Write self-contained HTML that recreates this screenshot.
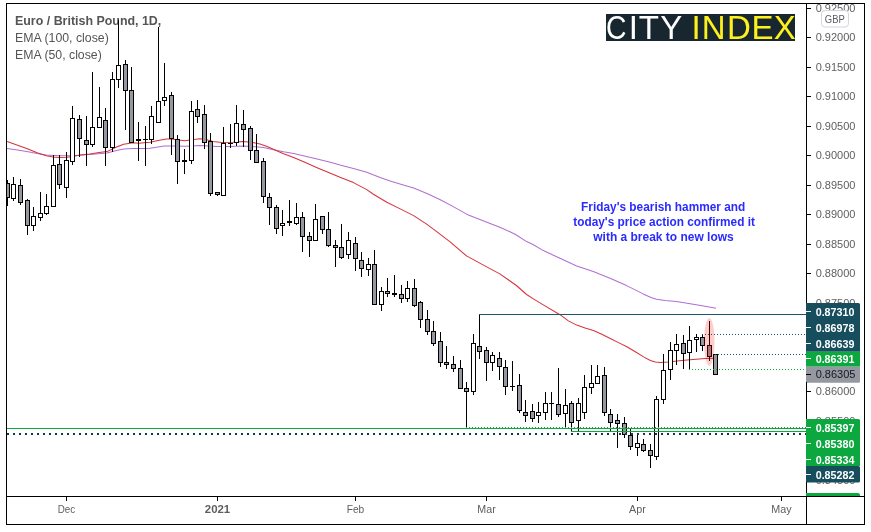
<!DOCTYPE html>
<html lang="en"><head><meta charset="utf-8"><title>Euro / British Pound, 1D</title>
<style>
html,body{margin:0;padding:0;background:#fff;}
body{width:871px;height:532px;overflow:hidden;position:relative;}
svg{position:absolute;left:0;top:0;display:block;}
text{font-family:"Liberation Sans",sans-serif;}
.ax{font-size:11px;fill:#5e5e5e;}
.lb{font-size:11px;font-weight:bold;fill:#fff;}
.ti{font-size:12.5px;fill:#555555;}
.an{font-size:11.9px;font-weight:bold;fill:#2b2bff;text-anchor:middle;}
.tm{font-size:11px;fill:#5e5e5e;text-anchor:middle;}
</style></head><body>
<svg width="871" height="532" viewBox="0 0 871 532">
<rect x="0" y="0" width="871" height="532" fill="#fff"/>
<defs><clipPath id="pane"><rect x="7" y="4" width="799" height="492"/></clipPath><clipPath id="axc"><rect x="807" y="4" width="57" height="492"/></clipPath></defs>
<text class="ti" x="15" y="24.8" font-weight="bold" textLength="146.3" lengthAdjust="spacingAndGlyphs">Euro / British Pound, 1D,</text>
<text class="ti" x="15" y="41.7" textLength="93.8" lengthAdjust="spacingAndGlyphs">EMA (100, close)</text>
<text class="ti" x="15" y="58.7" textLength="86.8" lengthAdjust="spacingAndGlyphs">EMA (50, close)</text>
<g clip-path="url(#pane)">
<polyline fill="none" stroke="#b06fd0" stroke-width="1.05" stroke-linejoin="round" points="7.0,148.4 17.6,150.1 28.0,151.8 37.1,153.5 46.3,155.0 59.0,155.8 69.3,155.8 79.6,155.3 92.3,154.3 107.0,153.1 116.5,150.4 123.7,149.0 133.0,148.4 143.0,148.5 150.0,148.3 158.0,147.0 164.3,146.0 173.5,146.0 185.0,146.2 191.8,145.9 200.0,145.4 216.7,146.4 230.1,146.4 243.5,145.9 255.2,146.8 263.5,147.6 273.6,149.8 283.6,151.8 293.6,153.4 305.4,156.3 317.1,159.0 330.4,162.3 340.0,165.1 353.4,168.4 366.8,172.2 380.1,177.6 390.2,180.9 400.0,183.9 413.6,188.1 427.0,193.5 440.3,199.8 453.7,206.9 467.1,214.4 485.0,221.6 499.8,227.3 510.0,231.7 516.4,235.0 526.6,241.6 533.0,244.5 543.3,250.6 560.0,258.3 576.6,266.0 593.3,271.6 610.0,278.3 626.6,285.6 643.2,293.9 651.0,297.5 656.5,299.3 665.0,300.4 676.5,301.6 693.2,304.2 705.0,306.3 716.0,308.2"/>
<polyline fill="none" stroke="#d6333a" stroke-width="1.05" stroke-linejoin="round" points="7.0,141.4 17.6,145.2 28.0,148.9 37.1,152.7 46.3,155.8 53.2,157.0 59.0,157.6 67.0,157.3 73.9,156.2 79.6,155.0 90.0,153.9 99.1,152.4 107.0,151.6 116.5,147.0 123.7,144.3 133.0,142.8 138.8,143.3 150.0,142.3 158.0,140.5 166.5,139.0 172.0,139.0 178.1,139.9 185.0,140.8 191.8,139.8 200.0,138.7 206.0,139.6 213.0,141.6 222.0,142.6 233.0,142.3 243.0,141.6 253.0,142.5 260.0,144.0 266.5,146.3 275.0,150.0 283.0,153.6 293.6,157.6 305.4,162.6 317.1,167.7 330.4,173.2 340.0,177.3 353.4,182.6 366.8,189.6 373.4,194.3 386.8,202.2 400.2,208.9 413.6,215.6 427.0,224.4 437.0,231.9 449.8,241.6 466.5,255.9 483.0,264.9 499.8,273.9 510.0,281.0 516.4,285.5 526.6,294.5 533.0,298.6 543.3,304.9 560.0,314.7 568.4,320.9 576.7,325.1 585.1,328.1 593.4,330.4 601.8,334.3 610.2,338.5 618.5,342.6 626.9,346.8 635.3,351.8 643.6,356.9 650.3,360.5 655.3,361.9 660.3,362.4 668.7,361.9 677.1,361.0 687.1,359.9 705.0,358.5 714.0,358.2"/>
<g shape-rendering="crispEdges">
<rect x="7" y="180" width="1" height="26" fill="#000"/>
<rect x="5" y="183" width="5" height="15" fill="#000"/>
<rect x="6" y="184" width="3" height="13" fill="#9598a1"/>
<rect x="13" y="177" width="1" height="24" fill="#000"/>
<rect x="11" y="184" width="5" height="15" fill="#000"/>
<rect x="12" y="185" width="3" height="13" fill="#fff"/>
<rect x="20" y="179" width="1" height="26" fill="#000"/>
<rect x="18" y="185" width="5" height="18" fill="#000"/>
<rect x="19" y="186" width="3" height="16" fill="#9598a1"/>
<rect x="27" y="199" width="1" height="36" fill="#000"/>
<rect x="25" y="200" width="5" height="26" fill="#000"/>
<rect x="26" y="201" width="3" height="24" fill="#9598a1"/>
<rect x="33" y="207" width="1" height="24" fill="#000"/>
<rect x="31" y="216" width="5" height="10" fill="#000"/>
<rect x="32" y="217" width="3" height="8" fill="#fff"/>
<rect x="40" y="192" width="1" height="29" fill="#000"/>
<rect x="38" y="213" width="5" height="5" fill="#000"/>
<rect x="39" y="214" width="3" height="3" fill="#fff"/>
<rect x="46" y="194" width="1" height="21" fill="#000"/>
<rect x="44" y="206" width="5" height="8" fill="#000"/>
<rect x="45" y="207" width="3" height="6" fill="#fff"/>
<rect x="53" y="155" width="1" height="51" fill="#000"/>
<rect x="51" y="165" width="5" height="42" fill="#000"/>
<rect x="52" y="166" width="3" height="40" fill="#fff"/>
<rect x="59" y="155" width="1" height="34" fill="#000"/>
<rect x="57" y="164" width="5" height="21" fill="#000"/>
<rect x="58" y="165" width="3" height="19" fill="#9598a1"/>
<rect x="66" y="152" width="1" height="46" fill="#000"/>
<rect x="64" y="160" width="5" height="28" fill="#000"/>
<rect x="65" y="161" width="3" height="26" fill="#fff"/>
<rect x="72" y="106" width="1" height="59" fill="#000"/>
<rect x="70" y="118" width="5" height="44" fill="#000"/>
<rect x="71" y="119" width="3" height="42" fill="#fff"/>
<rect x="79" y="115" width="1" height="42" fill="#000"/>
<rect x="77" y="119" width="5" height="20" fill="#000"/>
<rect x="78" y="120" width="3" height="18" fill="#9598a1"/>
<rect x="86" y="116" width="1" height="50" fill="#000"/>
<rect x="84" y="140" width="5" height="5" fill="#000"/>
<rect x="85" y="141" width="3" height="3" fill="#9598a1"/>
<rect x="92" y="72" width="1" height="75" fill="#000"/>
<rect x="90" y="127" width="5" height="18" fill="#000"/>
<rect x="91" y="128" width="3" height="16" fill="#fff"/>
<rect x="99" y="87" width="1" height="40" fill="#000"/>
<rect x="97" y="117" width="5" height="11" fill="#000"/>
<rect x="98" y="118" width="3" height="9" fill="#fff"/>
<rect x="105" y="108" width="1" height="58" fill="#000"/>
<rect x="103" y="120" width="5" height="28" fill="#000"/>
<rect x="104" y="121" width="3" height="26" fill="#9598a1"/>
<rect x="112" y="72" width="1" height="80" fill="#000"/>
<rect x="110" y="79" width="5" height="69" fill="#000"/>
<rect x="111" y="80" width="3" height="67" fill="#fff"/>
<rect x="118" y="20" width="1" height="68" fill="#000"/>
<rect x="116" y="65" width="5" height="15" fill="#000"/>
<rect x="117" y="66" width="3" height="13" fill="#fff"/>
<rect x="125" y="60" width="1" height="70" fill="#000"/>
<rect x="123" y="64" width="5" height="27" fill="#000"/>
<rect x="124" y="65" width="3" height="25" fill="#9598a1"/>
<rect x="131" y="67" width="1" height="75" fill="#000"/>
<rect x="129" y="90" width="5" height="53" fill="#000"/>
<rect x="130" y="91" width="3" height="51" fill="#9598a1"/>
<rect x="138" y="122" width="1" height="39" fill="#000"/>
<rect x="136" y="139" width="5" height="2" fill="#000"/>
<rect x="145" y="126" width="1" height="40" fill="#000"/>
<rect x="143" y="139" width="5" height="1" fill="#000"/>
<rect x="151" y="106" width="1" height="38" fill="#000"/>
<rect x="149" y="116" width="5" height="24" fill="#000"/>
<rect x="150" y="117" width="3" height="22" fill="#fff"/>
<rect x="158" y="27" width="1" height="95" fill="#000"/>
<rect x="156" y="101" width="5" height="22" fill="#000"/>
<rect x="157" y="102" width="3" height="20" fill="#fff"/>
<rect x="164" y="63" width="1" height="43" fill="#000"/>
<rect x="162" y="97" width="5" height="4" fill="#000"/>
<rect x="163" y="98" width="3" height="2" fill="#fff"/>
<rect x="171" y="92" width="1" height="63" fill="#000"/>
<rect x="169" y="95" width="5" height="44" fill="#000"/>
<rect x="170" y="96" width="3" height="42" fill="#9598a1"/>
<rect x="177" y="135" width="1" height="49" fill="#000"/>
<rect x="175" y="139" width="5" height="23" fill="#000"/>
<rect x="176" y="140" width="3" height="21" fill="#9598a1"/>
<rect x="184" y="149" width="1" height="25" fill="#000"/>
<rect x="182" y="160" width="5" height="2" fill="#000"/>
<rect x="191" y="101" width="1" height="63" fill="#000"/>
<rect x="189" y="111" width="5" height="50" fill="#000"/>
<rect x="190" y="112" width="3" height="48" fill="#fff"/>
<rect x="197" y="100" width="1" height="23" fill="#000"/>
<rect x="195" y="109" width="5" height="8" fill="#000"/>
<rect x="196" y="110" width="3" height="6" fill="#9598a1"/>
<rect x="204" y="105" width="1" height="44" fill="#000"/>
<rect x="202" y="114" width="5" height="29" fill="#000"/>
<rect x="203" y="115" width="3" height="27" fill="#9598a1"/>
<rect x="210" y="133" width="1" height="63" fill="#000"/>
<rect x="208" y="141" width="5" height="53" fill="#000"/>
<rect x="209" y="142" width="3" height="51" fill="#9598a1"/>
<rect x="217" y="192" width="1" height="4" fill="#000"/>
<rect x="215" y="192" width="5" height="3" fill="#000"/>
<rect x="216" y="193" width="3" height="1" fill="#9598a1"/>
<rect x="223" y="127" width="1" height="69" fill="#000"/>
<rect x="221" y="143" width="5" height="53" fill="#000"/>
<rect x="222" y="144" width="3" height="51" fill="#fff"/>
<rect x="230" y="124" width="1" height="24" fill="#000"/>
<rect x="228" y="143" width="5" height="1" fill="#000"/>
<rect x="236" y="105" width="1" height="41" fill="#000"/>
<rect x="234" y="123" width="5" height="20" fill="#000"/>
<rect x="235" y="124" width="3" height="18" fill="#fff"/>
<rect x="243" y="110" width="1" height="37" fill="#000"/>
<rect x="241" y="124" width="5" height="6" fill="#000"/>
<rect x="242" y="125" width="3" height="4" fill="#9598a1"/>
<rect x="250" y="126" width="1" height="34" fill="#000"/>
<rect x="248" y="128" width="5" height="23" fill="#000"/>
<rect x="249" y="129" width="3" height="21" fill="#9598a1"/>
<rect x="256" y="134" width="1" height="28" fill="#000"/>
<rect x="254" y="150" width="5" height="13" fill="#000"/>
<rect x="255" y="151" width="3" height="11" fill="#9598a1"/>
<rect x="263" y="158" width="1" height="45" fill="#000"/>
<rect x="261" y="161" width="5" height="36" fill="#000"/>
<rect x="262" y="162" width="3" height="34" fill="#9598a1"/>
<rect x="269" y="193" width="1" height="32" fill="#000"/>
<rect x="267" y="197" width="5" height="11" fill="#000"/>
<rect x="268" y="198" width="3" height="9" fill="#9598a1"/>
<rect x="276" y="205" width="1" height="29" fill="#000"/>
<rect x="274" y="207" width="5" height="22" fill="#000"/>
<rect x="275" y="208" width="3" height="20" fill="#9598a1"/>
<rect x="282" y="210" width="1" height="26" fill="#000"/>
<rect x="280" y="223" width="5" height="3" fill="#000"/>
<rect x="281" y="224" width="3" height="1" fill="#fff"/>
<rect x="289" y="200" width="1" height="26" fill="#000"/>
<rect x="287" y="221" width="5" height="2" fill="#000"/>
<rect x="296" y="203" width="1" height="22" fill="#000"/>
<rect x="294" y="217" width="5" height="7" fill="#000"/>
<rect x="295" y="218" width="3" height="5" fill="#fff"/>
<rect x="302" y="212" width="1" height="40" fill="#000"/>
<rect x="300" y="217" width="5" height="20" fill="#000"/>
<rect x="301" y="218" width="3" height="18" fill="#9598a1"/>
<rect x="309" y="232" width="1" height="25" fill="#000"/>
<rect x="307" y="236" width="5" height="5" fill="#000"/>
<rect x="308" y="237" width="3" height="3" fill="#9598a1"/>
<rect x="315" y="204" width="1" height="37" fill="#000"/>
<rect x="313" y="219" width="5" height="22" fill="#000"/>
<rect x="314" y="220" width="3" height="20" fill="#fff"/>
<rect x="322" y="216" width="1" height="18" fill="#000"/>
<rect x="320" y="216" width="5" height="14" fill="#000"/>
<rect x="321" y="217" width="3" height="12" fill="#9598a1"/>
<rect x="328" y="212" width="1" height="35" fill="#000"/>
<rect x="326" y="229" width="5" height="17" fill="#000"/>
<rect x="327" y="230" width="3" height="15" fill="#9598a1"/>
<rect x="335" y="240" width="1" height="27" fill="#000"/>
<rect x="333" y="245" width="5" height="3" fill="#000"/>
<rect x="334" y="246" width="3" height="1" fill="#9598a1"/>
<rect x="341" y="224" width="1" height="35" fill="#000"/>
<rect x="339" y="247" width="5" height="11" fill="#000"/>
<rect x="340" y="248" width="3" height="9" fill="#9598a1"/>
<rect x="348" y="232" width="1" height="27" fill="#000"/>
<rect x="346" y="240" width="5" height="15" fill="#000"/>
<rect x="347" y="241" width="3" height="13" fill="#fff"/>
<rect x="355" y="237" width="1" height="34" fill="#000"/>
<rect x="353" y="243" width="5" height="16" fill="#000"/>
<rect x="354" y="244" width="3" height="14" fill="#9598a1"/>
<rect x="361" y="252" width="1" height="25" fill="#000"/>
<rect x="359" y="260" width="5" height="9" fill="#000"/>
<rect x="360" y="261" width="3" height="7" fill="#9598a1"/>
<rect x="368" y="258" width="1" height="18" fill="#000"/>
<rect x="366" y="264" width="5" height="6" fill="#000"/>
<rect x="367" y="265" width="3" height="4" fill="#fff"/>
<rect x="374" y="250" width="1" height="54" fill="#000"/>
<rect x="372" y="264" width="5" height="41" fill="#000"/>
<rect x="373" y="265" width="3" height="39" fill="#9598a1"/>
<rect x="381" y="287" width="1" height="24" fill="#000"/>
<rect x="379" y="291" width="5" height="14" fill="#000"/>
<rect x="380" y="292" width="3" height="12" fill="#fff"/>
<rect x="387" y="278" width="1" height="19" fill="#000"/>
<rect x="385" y="291" width="5" height="3" fill="#000"/>
<rect x="386" y="292" width="3" height="1" fill="#9598a1"/>
<rect x="394" y="275" width="1" height="22" fill="#000"/>
<rect x="392" y="293" width="5" height="2" fill="#000"/>
<rect x="401" y="285" width="1" height="18" fill="#000"/>
<rect x="399" y="294" width="5" height="5" fill="#000"/>
<rect x="400" y="295" width="3" height="3" fill="#9598a1"/>
<rect x="407" y="281" width="1" height="21" fill="#000"/>
<rect x="405" y="288" width="5" height="11" fill="#000"/>
<rect x="406" y="289" width="3" height="9" fill="#fff"/>
<rect x="414" y="279" width="1" height="28" fill="#000"/>
<rect x="412" y="288" width="5" height="18" fill="#000"/>
<rect x="413" y="289" width="3" height="16" fill="#9598a1"/>
<rect x="420" y="301" width="1" height="27" fill="#000"/>
<rect x="418" y="302" width="5" height="18" fill="#000"/>
<rect x="419" y="303" width="3" height="16" fill="#9598a1"/>
<rect x="427" y="310" width="1" height="25" fill="#000"/>
<rect x="425" y="319" width="5" height="13" fill="#000"/>
<rect x="426" y="320" width="3" height="11" fill="#9598a1"/>
<rect x="433" y="321" width="1" height="25" fill="#000"/>
<rect x="431" y="331" width="5" height="13" fill="#000"/>
<rect x="432" y="332" width="3" height="11" fill="#9598a1"/>
<rect x="440" y="332" width="1" height="35" fill="#000"/>
<rect x="438" y="341" width="5" height="22" fill="#000"/>
<rect x="439" y="342" width="3" height="20" fill="#9598a1"/>
<rect x="446" y="346" width="1" height="23" fill="#000"/>
<rect x="444" y="362" width="5" height="3" fill="#000"/>
<rect x="445" y="363" width="3" height="1" fill="#9598a1"/>
<rect x="453" y="356" width="1" height="16" fill="#000"/>
<rect x="451" y="364" width="5" height="5" fill="#000"/>
<rect x="452" y="365" width="3" height="3" fill="#9598a1"/>
<rect x="460" y="360" width="1" height="28" fill="#000"/>
<rect x="458" y="368" width="5" height="21" fill="#000"/>
<rect x="459" y="369" width="3" height="19" fill="#9598a1"/>
<rect x="466" y="382" width="1" height="46" fill="#000"/>
<rect x="464" y="388" width="5" height="4" fill="#000"/>
<rect x="465" y="389" width="3" height="2" fill="#9598a1"/>
<rect x="473" y="334" width="1" height="61" fill="#000"/>
<rect x="471" y="343" width="5" height="49" fill="#000"/>
<rect x="472" y="344" width="3" height="47" fill="#fff"/>
<rect x="479" y="315" width="1" height="44" fill="#000"/>
<rect x="477" y="346" width="5" height="6" fill="#000"/>
<rect x="478" y="347" width="3" height="4" fill="#9598a1"/>
<rect x="486" y="347" width="1" height="34" fill="#000"/>
<rect x="484" y="350" width="5" height="13" fill="#000"/>
<rect x="485" y="351" width="3" height="11" fill="#9598a1"/>
<rect x="492" y="352" width="1" height="19" fill="#000"/>
<rect x="490" y="355" width="5" height="8" fill="#000"/>
<rect x="491" y="356" width="3" height="6" fill="#fff"/>
<rect x="499" y="352" width="1" height="28" fill="#000"/>
<rect x="497" y="358" width="5" height="9" fill="#000"/>
<rect x="498" y="359" width="3" height="7" fill="#9598a1"/>
<rect x="505" y="360" width="1" height="35" fill="#000"/>
<rect x="503" y="367" width="5" height="20" fill="#000"/>
<rect x="504" y="368" width="3" height="18" fill="#9598a1"/>
<rect x="512" y="361" width="1" height="30" fill="#000"/>
<rect x="510" y="386" width="5" height="1" fill="#000"/>
<rect x="519" y="374" width="1" height="39" fill="#000"/>
<rect x="517" y="385" width="5" height="26" fill="#000"/>
<rect x="518" y="386" width="3" height="24" fill="#9598a1"/>
<rect x="525" y="400" width="1" height="22" fill="#000"/>
<rect x="523" y="412" width="5" height="4" fill="#000"/>
<rect x="524" y="413" width="3" height="2" fill="#9598a1"/>
<rect x="532" y="404" width="1" height="18" fill="#000"/>
<rect x="530" y="411" width="5" height="8" fill="#000"/>
<rect x="531" y="412" width="3" height="6" fill="#9598a1"/>
<rect x="538" y="402" width="1" height="21" fill="#000"/>
<rect x="536" y="412" width="5" height="4" fill="#000"/>
<rect x="537" y="413" width="3" height="2" fill="#fff"/>
<rect x="545" y="392" width="1" height="28" fill="#000"/>
<rect x="543" y="403" width="5" height="10" fill="#000"/>
<rect x="544" y="404" width="3" height="8" fill="#fff"/>
<rect x="551" y="392" width="1" height="28" fill="#000"/>
<rect x="549" y="403" width="5" height="1" fill="#000"/>
<rect x="558" y="368" width="1" height="49" fill="#000"/>
<rect x="556" y="404" width="5" height="11" fill="#000"/>
<rect x="557" y="405" width="3" height="9" fill="#9598a1"/>
<rect x="565" y="389" width="1" height="38" fill="#000"/>
<rect x="563" y="405" width="5" height="9" fill="#000"/>
<rect x="564" y="406" width="3" height="7" fill="#fff"/>
<rect x="571" y="401" width="1" height="30" fill="#000"/>
<rect x="569" y="403" width="5" height="20" fill="#000"/>
<rect x="570" y="404" width="3" height="18" fill="#9598a1"/>
<rect x="578" y="398" width="1" height="33" fill="#000"/>
<rect x="576" y="403" width="5" height="18" fill="#000"/>
<rect x="577" y="404" width="3" height="16" fill="#fff"/>
<rect x="584" y="375" width="1" height="44" fill="#000"/>
<rect x="582" y="387" width="5" height="26" fill="#000"/>
<rect x="583" y="388" width="3" height="24" fill="#fff"/>
<rect x="591" y="365" width="1" height="29" fill="#000"/>
<rect x="589" y="383" width="5" height="5" fill="#000"/>
<rect x="590" y="384" width="3" height="3" fill="#fff"/>
<rect x="597" y="365" width="1" height="18" fill="#000"/>
<rect x="595" y="376" width="5" height="8" fill="#000"/>
<rect x="596" y="377" width="3" height="6" fill="#fff"/>
<rect x="604" y="367" width="1" height="49" fill="#000"/>
<rect x="602" y="375" width="5" height="38" fill="#000"/>
<rect x="603" y="376" width="3" height="36" fill="#9598a1"/>
<rect x="610" y="409" width="1" height="22" fill="#000"/>
<rect x="608" y="414" width="5" height="9" fill="#000"/>
<rect x="609" y="415" width="3" height="7" fill="#9598a1"/>
<rect x="617" y="414" width="1" height="34" fill="#000"/>
<rect x="615" y="420" width="5" height="4" fill="#000"/>
<rect x="616" y="421" width="3" height="2" fill="#9598a1"/>
<rect x="624" y="417" width="1" height="21" fill="#000"/>
<rect x="622" y="423" width="5" height="12" fill="#000"/>
<rect x="623" y="424" width="3" height="10" fill="#9598a1"/>
<rect x="630" y="429" width="1" height="21" fill="#000"/>
<rect x="628" y="435" width="5" height="12" fill="#000"/>
<rect x="629" y="436" width="3" height="10" fill="#9598a1"/>
<rect x="637" y="433" width="1" height="23" fill="#000"/>
<rect x="635" y="443" width="5" height="5" fill="#000"/>
<rect x="636" y="444" width="3" height="3" fill="#fff"/>
<rect x="643" y="439" width="1" height="13" fill="#000"/>
<rect x="641" y="444" width="5" height="7" fill="#000"/>
<rect x="642" y="445" width="3" height="5" fill="#9598a1"/>
<rect x="650" y="444" width="1" height="24" fill="#000"/>
<rect x="648" y="450" width="5" height="6" fill="#000"/>
<rect x="649" y="451" width="3" height="4" fill="#9598a1"/>
<rect x="656" y="396" width="1" height="64" fill="#000"/>
<rect x="654" y="399" width="5" height="58" fill="#000"/>
<rect x="655" y="400" width="3" height="56" fill="#fff"/>
<rect x="663" y="354" width="1" height="50" fill="#000"/>
<rect x="661" y="370" width="5" height="30" fill="#000"/>
<rect x="662" y="371" width="3" height="28" fill="#fff"/>
<rect x="670" y="342" width="1" height="38" fill="#000"/>
<rect x="668" y="350" width="5" height="20" fill="#000"/>
<rect x="669" y="351" width="3" height="18" fill="#fff"/>
<rect x="676" y="334" width="1" height="31" fill="#000"/>
<rect x="674" y="344" width="5" height="7" fill="#000"/>
<rect x="675" y="345" width="3" height="5" fill="#fff"/>
<rect x="683" y="335" width="1" height="34" fill="#000"/>
<rect x="681" y="343" width="5" height="11" fill="#000"/>
<rect x="682" y="344" width="3" height="9" fill="#9598a1"/>
<rect x="689" y="326" width="1" height="43" fill="#000"/>
<rect x="687" y="340" width="5" height="13" fill="#000"/>
<rect x="688" y="341" width="3" height="11" fill="#fff"/>
<rect x="696" y="334" width="1" height="18" fill="#000"/>
<rect x="694" y="337" width="5" height="3" fill="#000"/>
<rect x="695" y="338" width="3" height="1" fill="#fff"/>
<rect x="702" y="334" width="1" height="17" fill="#000"/>
<rect x="700" y="337" width="5" height="9" fill="#000"/>
<rect x="701" y="338" width="3" height="7" fill="#9598a1"/>
<rect x="709" y="321" width="1" height="40" fill="#000"/>
<rect x="707" y="345" width="5" height="12" fill="#000"/>
<rect x="708" y="346" width="3" height="10" fill="#9598a1"/>
<rect x="715" y="354" width="1" height="21" fill="#000"/>
<rect x="713" y="354" width="5" height="21" fill="#000"/>
<rect x="714" y="355" width="3" height="19" fill="#9598a1"/>
</g>
<g shape-rendering="crispEdges">
<rect x="479" y="314" width="328" height="1" fill="#1b5768"/>
<rect x="7" y="428" width="800" height="1" fill="#0ca73f"/>
<rect x="571" y="431" width="236" height="1" fill="#0ca73f"/>
</g>
<line x1="702" y1="334.5" x2="807" y2="334.5" stroke="#1b5768" stroke-width="1" stroke-dasharray="1 2" shape-rendering="crispEdges"/>
<line x1="715" y1="354.5" x2="807" y2="354.5" stroke="#1b5768" stroke-width="1" stroke-dasharray="1 2" shape-rendering="crispEdges"/>
<line x1="689" y1="369.5" x2="807" y2="369.5" stroke="#0ca73f" stroke-width="1" stroke-dasharray="1 2" shape-rendering="crispEdges"/>
<line x1="466" y1="427.5" x2="807" y2="427.5" stroke="#0ca73f" stroke-width="1" stroke-dasharray="1 2" shape-rendering="crispEdges"/>
<line x1="7" y1="434" x2="807" y2="434" stroke="#0e3c4c" stroke-width="2" stroke-dasharray="2 4" shape-rendering="crispEdges"/>
<ellipse cx="709.3" cy="341.9" rx="5.2" ry="24" fill="rgba(255,0,0,0.2)"/>
</g>
<rect x="606" y="14" width="189" height="27" fill="#182630"/>
<text y="38.7" font-size="33" fill="#ffffff"><tspan x="606.1" textLength="20.5" lengthAdjust="spacingAndGlyphs">C</tspan><tspan x="628.7">I</tspan><tspan x="638.7">T</tspan><tspan x="660.2">Y</tspan></text>
<text x="691.4 701.8 727.0 751.5 773.8" y="38.7" font-size="33" fill="#fdf01c">INDEX</text>
<text class="an" x="663.2" y="210.8" textLength="164.2" lengthAdjust="spacingAndGlyphs">Friday's bearish hammer and</text>
<text class="an" x="664.1" y="225.8" textLength="181.6" lengthAdjust="spacingAndGlyphs">today's price action confirmed it</text>
<text class="an" x="663.5" y="240.7" textLength="140.4" lengthAdjust="spacingAndGlyphs">with a break to new lows</text>
<g clip-path="url(#axc)">
<rect x="807" y="8" width="4" height="1" fill="#000" shape-rendering="crispEdges"/>
<text class="ax" x="815.7" y="11.9">0.92500</text>
<rect x="807" y="37" width="4" height="1" fill="#000" shape-rendering="crispEdges"/>
<text class="ax" x="815.7" y="41.4">0.92000</text>
<rect x="807" y="67" width="4" height="1" fill="#000" shape-rendering="crispEdges"/>
<text class="ax" x="815.7" y="70.9">0.91500</text>
<rect x="807" y="96" width="4" height="1" fill="#000" shape-rendering="crispEdges"/>
<text class="ax" x="815.7" y="100.4">0.91000</text>
<rect x="807" y="126" width="4" height="1" fill="#000" shape-rendering="crispEdges"/>
<text class="ax" x="815.7" y="129.9">0.90500</text>
<rect x="807" y="155" width="4" height="1" fill="#000" shape-rendering="crispEdges"/>
<text class="ax" x="815.7" y="159.4">0.90000</text>
<rect x="807" y="185" width="4" height="1" fill="#000" shape-rendering="crispEdges"/>
<text class="ax" x="815.7" y="188.9">0.89500</text>
<rect x="807" y="214" width="4" height="1" fill="#000" shape-rendering="crispEdges"/>
<text class="ax" x="815.7" y="218.4">0.89000</text>
<rect x="807" y="244" width="4" height="1" fill="#000" shape-rendering="crispEdges"/>
<text class="ax" x="815.7" y="247.9">0.88500</text>
<rect x="807" y="273" width="4" height="1" fill="#000" shape-rendering="crispEdges"/>
<text class="ax" x="815.7" y="277.4">0.88000</text>
<rect x="807" y="303" width="4" height="1" fill="#000" shape-rendering="crispEdges"/>
<text class="ax" x="815.7" y="306.9">0.87500</text>
<rect x="807" y="332" width="4" height="1" fill="#000" shape-rendering="crispEdges"/>
<text class="ax" x="815.7" y="336.4">0.87000</text>
<rect x="807" y="362" width="4" height="1" fill="#000" shape-rendering="crispEdges"/>
<text class="ax" x="815.7" y="365.9">0.86500</text>
<rect x="807" y="391" width="4" height="1" fill="#000" shape-rendering="crispEdges"/>
<text class="ax" x="815.7" y="395.4">0.86000</text>
<rect x="807" y="421" width="4" height="1" fill="#000" shape-rendering="crispEdges"/>
<text class="ax" x="815.7" y="424.9">0.85500</text>
<rect x="807" y="450" width="4" height="1" fill="#000" shape-rendering="crispEdges"/>
<text class="ax" x="815.7" y="454.4">0.85000</text>
<rect x="807" y="480" width="4" height="1" fill="#000" shape-rendering="crispEdges"/>
<text class="ax" x="815.7" y="483.9">0.84500</text>
</g>
<rect x="821.5" y="10.5" width="27" height="16.5" rx="3.5" ry="3.5" fill="#fff" stroke="#d3d6e0" stroke-width="1"/>
<text x="824.8" y="22.6" font-size="10.5" fill="#5e5e5e" textLength="20" lengthAdjust="spacingAndGlyphs">GBP</text>
<path d="M806 303 H858.5 Q860 303 860 304.5 V351.7 H806 Z" fill="#174e5e"/>
<rect x="806" y="351.7" width="54" height="15" fill="#0ca73f"/>
<path d="M806 366.7 H860 V381.2 Q860 382.7 858.5 382.7 H806 Z" fill="#9598a1"/>
<rect x="806" y="311" width="5" height="1" fill="#fff" shape-rendering="crispEdges"/>
<text class="lb" x="815.7" y="315.9" textLength="38.7" lengthAdjust="spacingAndGlyphs">0.87310</text>
<rect x="806" y="327" width="5" height="1" fill="#fff" shape-rendering="crispEdges"/>
<text class="lb" x="815.7" y="331.9" textLength="38.7" lengthAdjust="spacingAndGlyphs">0.86978</text>
<rect x="806" y="343" width="5" height="1" fill="#fff" shape-rendering="crispEdges"/>
<text class="lb" x="815.7" y="347.8" textLength="38.7" lengthAdjust="spacingAndGlyphs">0.86639</text>
<rect x="806" y="358" width="5" height="1" fill="#fff" shape-rendering="crispEdges"/>
<text class="lb" x="815.7" y="362.6" textLength="38.7" lengthAdjust="spacingAndGlyphs">0.86391</text>
<rect x="806" y="374" width="5" height="1" fill="#000" shape-rendering="crispEdges"/>
<text x="815.7" y="378.4" font-size="11" fill="#14171f">0.86305</text>
<path d="M806 419 H858.5 Q860 419 860 420.5 V466.1 H806 Z" fill="#0ca73f"/>
<path d="M806 466.1 H858.5 Q860 466.1 860 467.6 V481.1 Q860 482.6 858.5 482.6 H806 Z" fill="#174e5e"/>
<rect x="806" y="427" width="5" height="1" fill="#fff" shape-rendering="crispEdges"/>
<text class="lb" x="815.7" y="431.7" textLength="38.7" lengthAdjust="spacingAndGlyphs">0.85397</text>
<rect x="806" y="443" width="5" height="1" fill="#fff" shape-rendering="crispEdges"/>
<text class="lb" x="815.7" y="447.5" textLength="38.7" lengthAdjust="spacingAndGlyphs">0.85380</text>
<rect x="806" y="459" width="5" height="1" fill="#fff" shape-rendering="crispEdges"/>
<text class="lb" x="815.7" y="463.8" textLength="38.7" lengthAdjust="spacingAndGlyphs">0.85334</text>
<rect x="806" y="474" width="5" height="1" fill="#fff" shape-rendering="crispEdges"/>
<text class="lb" x="815.7" y="478.6" textLength="38.7" lengthAdjust="spacingAndGlyphs">0.85282</text>
<path d="M806 496 V493 H858 Q860 493 860 495 V496 Z" fill="#0ca73f"/>
<rect x="66" y="497" width="1" height="4" fill="#000" shape-rendering="crispEdges"/>
<text class="tm" x="66.5" y="513" textLength="17.5" lengthAdjust="spacingAndGlyphs">Dec</text>
<rect x="217" y="497" width="1" height="4" fill="#000" shape-rendering="crispEdges"/>
<text class="tm" x="217.5" y="513" textLength="25.4" lengthAdjust="spacingAndGlyphs" font-weight="bold">2021</text>
<rect x="355" y="497" width="1" height="4" fill="#000" shape-rendering="crispEdges"/>
<text class="tm" x="355.5" y="513" textLength="17.5" lengthAdjust="spacingAndGlyphs">Feb</text>
<rect x="486" y="497" width="1" height="4" fill="#000" shape-rendering="crispEdges"/>
<text class="tm" x="486.5" y="513" textLength="18.4" lengthAdjust="spacingAndGlyphs">Mar</text>
<rect x="637" y="497" width="1" height="4" fill="#000" shape-rendering="crispEdges"/>
<text class="tm" x="637.5" y="513" textLength="16.8" lengthAdjust="spacingAndGlyphs">Apr</text>
<rect x="781" y="497" width="1" height="4" fill="#000" shape-rendering="crispEdges"/>
<text class="tm" x="781.5" y="513" textLength="20.3" lengthAdjust="spacingAndGlyphs">May</text>
<g shape-rendering="crispEdges" fill="#000">
<rect x="6" y="3" width="859" height="1"/>
<rect x="6" y="524" width="859" height="1"/>
<rect x="6" y="3" width="1" height="522"/>
<rect x="864" y="3" width="1" height="522"/>
<rect x="6" y="496" width="859" height="1"/>
<rect x="806" y="3" width="1" height="300"/>
<rect x="806" y="382" width="1" height="37"/>
<rect x="806" y="482" width="1" height="11"/>
<rect x="806" y="496" width="1" height="29"/>
</g>
</svg>
</body></html>
